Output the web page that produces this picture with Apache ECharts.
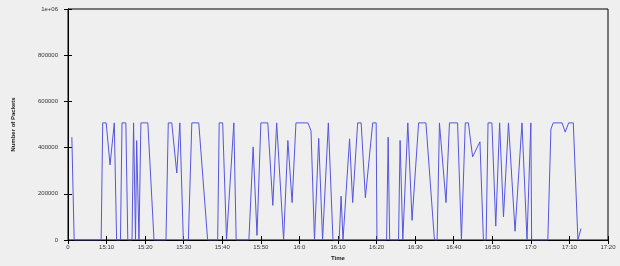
<!DOCTYPE html>
<html>
<head>
<meta charset="utf-8">
<script src="https://cdn.jsdelivr.net/npm/echarts@6.0.0/dist/echarts.min.js"></script>
<style>
html, body { margin: 0; padding: 0; background: #efefef; }
#main { width: 620px; height: 266px; }
</style>
</head>
<body>
<div id="main"></div>
<script>
// minutes after 15:00
const times = [
	1.0, 1.6, 8.6, 9.0, 9.9, 10.9, 12.0, 12.6, 13.6, 14.0, 15.0, 15.5,
	16.6, 17.0, 17.5, 17.8, 18.4, 18.9, 20.7, 22.3,
	25.4, 26.0, 26.9, 28.2, 29.0, 29.9,
	31.2, 32.1, 33.9, 36.2,
	38.8, 39.2, 40.1, 41.1, 43.0, 43.6,
	46.9, 48.0, 49.0, 50.0, 51.8, 53.1, 54.1, 55.9,
	57.0, 58.1, 59.1, 62.2, 63.0, 63.9,
	65.0, 66.0, 67.5, 68.7, 70.3, 70.8, 71.3, 73.0, 73.8, 75.1, 76.0, 77.1, 79.0, 79.9, 80.1,
	82.6, 83.0, 83.4, 85.7, 86.1, 86.8, 87.2, 88.1, 89.2, 90.9, 92.8, 95.0,
	95.7, 96.3, 98.0, 98.9, 101.0, 102.0, 102.5, 103.0, 103.8, 104.9, 106.8, 107.7,
	108.4, 108.9, 109.9, 110.9, 111.9, 112.9, 114.2, 115.9, 117.7, 119.0, 120.0, 120.2,
	124.4, 125.2, 125.8, 128.1, 128.9, 129.8, 131.0, 132.2, 133.0
];
const packets = [
	445000, 0, 0, 507000, 507000, 325000, 507000, 0, 0, 507000, 507000, 0,
	0, 507000, 0, 430000, 0, 507000, 507000, 0,
	0, 507000, 507000, 290000, 507000, 0,
	0, 507000, 507000, 0,
	0, 507000, 507000, 0, 507000, 0,
	0, 403000, 20000, 507000, 507000, 150000, 507000, 0,
	431000, 162000, 507000, 507000, 473000, 0,
	440000, 0, 507000, 0, 0, 190000, 0, 438000, 162000, 507000, 507000, 183000, 507000, 507000, 0,
	0, 445000, 0, 0, 431000, 0, 0, 507000, 85000, 507000, 507000, 0,
	0, 507000, 162000, 507000, 507000, 0, 0, 507000, 507000, 360000, 425000, 0,
	0, 507000, 507000, 60000, 507000, 100000, 507000, 38000, 507000, 0, 507000, 0,
	0, 480000, 507000, 507000, 467000, 507000, 507000, 0, 50000
];
const xTickLabels = ['0', '15:10', '15:20', '15:30', '15:40', '15:50', '16:0', '16:10', '16:20', '16:30', '16:40', '16:50', '17:0', '17:10', '17:20'];
const yTickLabels = ['0', '200000', '400000', '600000', '800000', '1e+06'];

const labelStyle = { color: '#333', fontSize: 6, fontFamily: 'Liberation Sans' };
const tick = { show: true, inside: true, length: 4, lineStyle: { color: '#000' } };
const line = { show: true, lineStyle: { color: '#000', width: 1 } };

echarts.init(document.getElementById('main')).setOption({
	backgroundColor: '#efefef',
	animation: false,
	grid: { left: 68, right: 12, top: 9, bottom: 22, show: true, borderColor: '#000', borderWidth: 1 },
	xAxis: [{
		type: 'value', min: 0, max: 140, interval: 10,
		name: 'Time', nameLocation: 'middle', nameGap: 15, nameMoveOverlap: false,
		nameTextStyle: { color: '#222', fontSize: 6, fontWeight: 'bold', fontFamily: 'Liberation Sans' },
		axisLine: line, axisTick: tick, splitLine: { show: false },
		axisLabel: { ...labelStyle, margin: 4, formatter: v => xTickLabels[Math.round(v / 10)] },
	}, {
		type: 'value', min: 0, max: 140, interval: 10, position: 'top',
		axisLine: line, axisTick: tick, splitLine: { show: false }, axisLabel: { show: false },
	}],
	yAxis: [{
		type: 'value', min: 0, max: 1000000, interval: 200000,
		name: 'Number of Packets', nameLocation: 'middle', nameGap: 52, nameMoveOverlap: false,
		nameTextStyle: { color: '#222', fontSize: 6, fontWeight: 'bold', fontFamily: 'Liberation Sans' },
		axisLine: line, axisTick: tick, splitLine: { show: false },
		axisLabel: { ...labelStyle, margin: 10, formatter: v => yTickLabels[Math.round(v / 200000)] },
	}, {
		type: 'value', min: 0, max: 1000000, interval: 200000, position: 'right',
		axisLine: line, axisTick: tick, splitLine: { show: false }, axisLabel: { show: false },
	}],
	series: [{
		type: 'line',
		showSymbol: false,
		lineStyle: { color: '#5555e0', width: 1 },
		data: times.map((t, i) => [t, packets[i]]),
	}],
});
</script>
</body>
</html>
